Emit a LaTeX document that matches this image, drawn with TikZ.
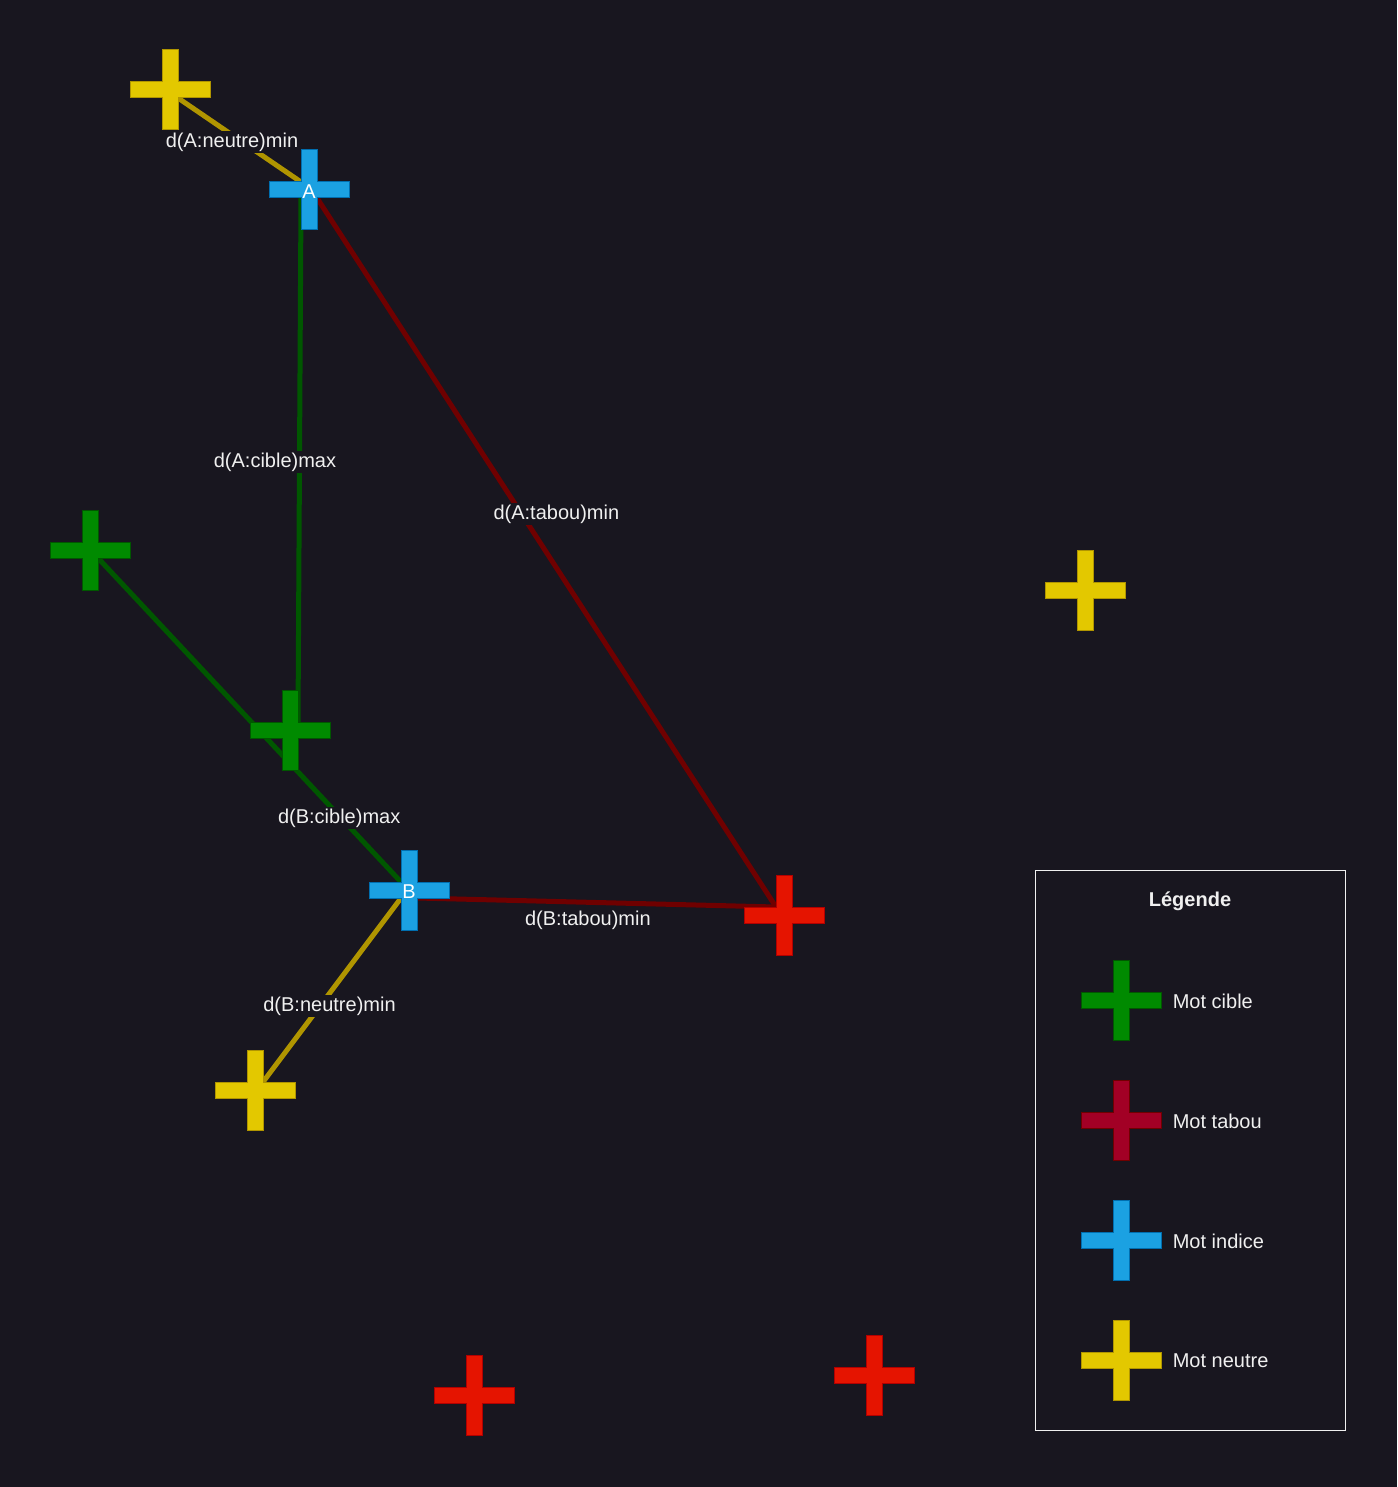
\documentclass[tikz,border=0pt]{standalone}
\usepackage{fontspec}
\setmainfont{Liberation Sans}
\usepackage{tikz}
\usetikzlibrary{positioning}
\definecolor{fond}{HTML}{18161F}
\definecolor{texte}{HTML}{F0F0F0}
\definecolor{jaune}{HTML}{E3C800}
\definecolor{jauneb}{HTML}{B09500}
\definecolor{vert}{HTML}{008A00}
\definecolor{vertb}{HTML}{005700}
\definecolor{bleu}{HTML}{1BA1E2}
\definecolor{bleub}{HTML}{006EAF}
\definecolor{rouge}{HTML}{E51400}
\definecolor{rougeb}{HTML}{B20000}
\definecolor{bordeaux}{HTML}{A20025}
\definecolor{bordeauxb}{HTML}{6F0000}
\pgfdeclarelayer{dessous}
\pgfsetlayers{dessous,main}

\begin{document}
\begin{tikzpicture}[x=0.5pt,y=-0.5pt,text=texte,
  crx/.style={minimum size=41pt,inner sep=0,
    path picture={\filldraw[fill=#1,draw=#1b,line width=0.5pt,shift={(path picture bounding box.center)}]
      (-40,-8) -- (-8,-8) -- (-8,-40) -- (8,-40) -- (8,-8) -- (40,-8) -- (40,8) -- (8,8)
      -- (8,40) -- (-8,40) -- (-8,8) -- (-40,8) -- cycle;}},
  lien/.style={line width=2.5pt},
  lbl/.style={fill=fond,inner sep=1pt,yshift=-1pt}]
% mots
\foreach \n/\c/\x/\y/\t in {n1/jaune/170/90/{},A/bleu/309/190/A,c1/vert/90/550/{},
  n2/jaune/1085/590/{},c2/vert/290/730/{},B/bleu/409/890/B,t1/rouge/784/915/{},
  n3/jaune/255/1090/{},t2/rouge/474/1395/{},t3/rouge/874/1375/{}} {
   \node[crx=\c,label={[text=white,yshift=-1pt]center:\t}] (\n) at (\x,\y) {};
}
% distances
\begin{pgfonlayer}{dessous}
\fill[fond] (0,0) rectangle (1397,1487);
\draw[lien,jauneb] ([shift={(8,8)}]n1.center) -- ([shift={(-8,-8)}]A.center) coordinate[pos=0.5] (mAn);
\draw[lien,vertb] ([shift={(-8,8)}]A.center) -- ([shift={(8,-8)}]c2.center) coordinate[pos=0.5] (mAc);
\draw[lien,bordeauxb] ([shift={(8,8)}]A.center) -- ([shift={(-8,-8)}]t1.center) coordinate[pos=0.443] (mAt);
\draw[lien,vertb] ([shift={(8,8)}]c1.center) -- ([shift={(-8,-8)}]B.center) coordinate[pos=0.796] (mBc);
\draw[lien,bordeauxb] ([shift={(8,8)}]B.center) -- ([shift={(-8,-8)}]t1.center) coordinate[pos=0.476] (mBt);
\draw[lien,jauneb] ([shift={(-8,8)}]B.center) -- ([shift={(8,-8)}]n3.center) coordinate[pos=0.576] (mBn);
\end{pgfonlayer}
\node[lbl,xshift=-3.75pt] (lAn) at (mAn) {d(A:neutre)min};
\node[lbl,xshift=-12.25pt] (lAc) at (mAc) {d(A:cible)max};
\node[lbl,xshift=18pt] (lAt) at (mAt) {d(A:tabou)min};
\node[lbl] (lBc) at (mBc) {d(B:cible)max};
\node[lbl,yshift=-8pt] (lBt) at (mBt) {d(B:tabou)min};
\node[lbl,xshift=4pt] (lBn) at (mBn) {d(B:neutre)min};
% legende
\node[draw=texte,line width=0.5pt,minimum width=155pt,minimum height=280pt,inner sep=0] (leg) at (1190,1150) {};
\node[font=\bfseries,yshift=-1pt] (titre) at (1190,899) {Légende};
\foreach \n/\c/\y/\t in {lc/vert/1000/Mot cible,lt/bordeaux/1120/Mot tabou,
  li/bleu/1240/Mot indice,ln/jaune/1360/Mot neutre} {
   \node[crx=\c] (\n) at (1121,\y) {};
   \node[right=5pt of \n,inner sep=0,yshift=-0.5pt] (t\n) {\t};
}
\end{tikzpicture}
\end{document}
